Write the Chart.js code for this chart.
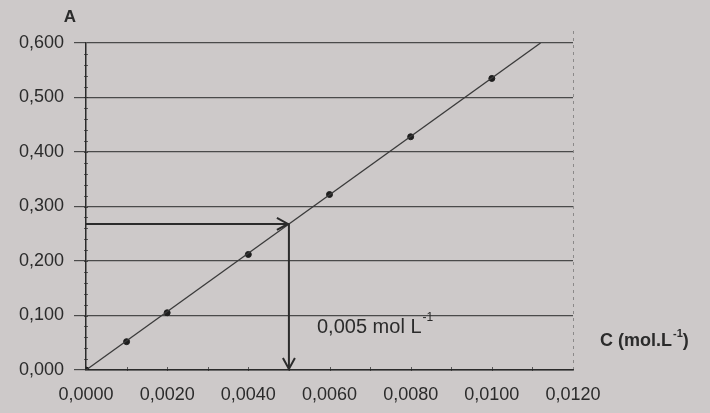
<!DOCTYPE html>
<html>
<head>
<meta charset="utf-8">
<script src="https://cdn.jsdelivr.net/npm/chart.js@4.4.1/dist/chart.umd.min.js"></script>
<style>
  html, body { margin: 0; padding: 0; background: #cdc9c9; }
  #wrap { width: 710px; height: 413px; }
</style>
</head>
<body>
<div id="wrap"><canvas id="chart" width="710" height="413"></canvas></div>
<script>
// measured points (C in mol/L, A absorbance)
const concentrations = [0, 0.001, 0.002, 0.004, 0.006, 0.008, 0.010];
const absorbances = [0, 0.052, 0.105, 0.212, 0.322, 0.428, 0.535];

// calibration line
const fitC = [0, 0.0112];
const fitA = [0, 0.6];

// reading of the unknown
const readC = 0.005;
const readA = 0.268;

const xTickLabels = ['0,0000', '0,0020', '0,0040', '0,0060', '0,0080', '0,0100', '0,0120'];
const yTickLabels = ['0,000', '0,100', '0,200', '0,300', '0,400', '0,500', '0,600'];

const ink = '#2b2b2b';
const font = 'Liberation Sans, Arial, sans-serif';

function toPoints(xs, ys) {
  return xs.map((x, i) => ({ x: x, y: ys[i] }));
}

const extras = {
  id: 'extras',
  afterDatasetsDraw(chart) {
    const ctx = chart.ctx;
    const xs = chart.scales.x;
    const ys = chart.scales.y;
    const area = chart.chartArea;
    ctx.save();

    // faint right border
    ctx.strokeStyle = 'rgba(60,60,60,0.45)';
    ctx.lineWidth = 1;
    ctx.setLineDash([3, 4]);
    ctx.beginPath();
    ctx.moveTo(area.right + 0.5, area.top - 12);
    ctx.lineTo(area.right + 0.5, area.bottom);
    ctx.stroke();
    ctx.setLineDash([]);

    // minor ticks
    ctx.strokeStyle = 'rgba(40,40,40,0.7)';
    ctx.lineWidth = 1;
    ctx.beginPath();
    for (let v = 0.02; v < 0.6; v += 0.02) {
      const py = Math.round(ys.getPixelForValue(v)) + 0.5;
      ctx.moveTo(area.left - 2, py);
      ctx.lineTo(area.left + 2, py);
    }
    for (let v = 0.001; v < 0.012; v += 0.001) {
      const px = Math.round(xs.getPixelForValue(v)) + 0.5;
      ctx.moveTo(px, area.bottom - 3);
      ctx.lineTo(px, area.bottom + 1);
    }
    ctx.stroke();

    // arrow heads
    const hx = xs.getPixelForValue(readC);
    const hy = ys.getPixelForValue(readA);
    const by = ys.getPixelForValue(0);
    ctx.strokeStyle = ink;
    ctx.lineWidth = 2;
    ctx.beginPath();
    ctx.moveTo(hx - 12, hy - 6);
    ctx.lineTo(hx - 1, hy);
    ctx.lineTo(hx - 12, hy + 6);
    ctx.moveTo(hx - 6, by - 12);
    ctx.lineTo(hx, by - 1);
    ctx.lineTo(hx + 6, by - 12);
    ctx.stroke();

    // axis names
    ctx.fillStyle = ink;
    ctx.textBaseline = 'middle';
    ctx.textAlign = 'center';
    ctx.font = 'bold 17px ' + font;
    ctx.fillText('A', area.left - 16, 17);

    ctx.textAlign = 'left';
    ctx.font = 'bold 18px ' + font;
    let tx = 600, ty = 341;
    ctx.fillText('C (mol.L', tx, ty);
    tx += ctx.measureText('C (mol.L').width;
    ctx.font = 'bold 11px ' + font;
    ctx.fillText('-1', tx + 1, ty - 7);
    tx += ctx.measureText('-1').width + 1;
    ctx.font = 'bold 18px ' + font;
    ctx.fillText(')', tx, ty);

    // annotation
    ctx.font = '20px ' + font;
    tx = 317; ty = 327;
    ctx.fillText('0,005 mol L', tx, ty);
    tx += ctx.measureText('0,005 mol L').width;
    ctx.font = '12px ' + font;
    ctx.fillText('-1', tx + 1, ty - 9);

    ctx.restore();
  }
};

new Chart(document.getElementById('chart'), {
  type: 'scatter',
  data: {
    datasets: [
      {
        label: 'Droite',
        data: toPoints(fitC, fitA),
        showLine: true,
        borderColor: '#3a3a3a',
        borderWidth: 1.3,
        pointRadius: 0
      },
      {
        label: 'Lecture horizontale',
        data: toPoints([0, readC], [readA, readA]),
        showLine: true,
        borderColor: ink,
        borderWidth: 2,
        pointRadius: 0
      },
      {
        label: 'Lecture verticale',
        data: toPoints([readC, readC], [readA, 0]),
        showLine: true,
        borderColor: ink,
        borderWidth: 2,
        pointRadius: 0
      },
      {
        label: 'Mesures',
        data: toPoints(concentrations, absorbances),
        showLine: false,
        backgroundColor: '#1e1e1e',
        borderColor: '#1e1e1e',
        pointRadius: 3
      }
    ]
  },
  options: {
    responsive: false,
    animation: false,
    layout: { padding: { left: 0, right: 137, top: 43, bottom: 0 } },
    plugins: { legend: { display: false }, tooltip: { enabled: false } },
    scales: {
      x: {
        type: 'linear',
        min: 0,
        max: 0.012,
        afterFit(scale) { scale.height = 43; },
        ticks: {
          stepSize: 0.002,
          padding: 6,
          color: ink,
          font: { family: font, size: 18 },
          maxRotation: 0,
          callback: (v, i) => xTickLabels[i]
        },
        grid: { display: false },
        border: { display: true, color: ink, width: 1.5 }
      },
      y: {
        type: 'linear',
        min: 0,
        max: 0.6,
        afterFit(scale) { scale.width = 86; },
        ticks: {
          stepSize: 0.1,
          padding: 10,
          color: ink,
          font: { family: font, size: 18 },
          callback: (v, i) => yTickLabels[i]
        },
        grid: {
          color: '#4a4a4a',
          lineWidth: 1.2,
          tickLength: 12
        },
        border: { display: true, color: ink, width: 1.5 }
      }
    }
  },
  plugins: [extras]
});
</script>
</body>
</html>
